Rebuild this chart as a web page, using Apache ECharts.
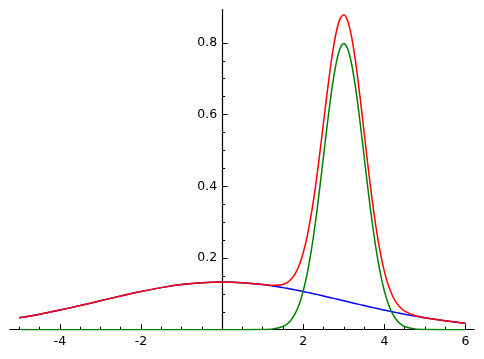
<!DOCTYPE html>
<html>
<head>
<meta charset="utf-8">
<script src="https://cdn.jsdelivr.net/npm/echarts@6/dist/echarts.min.js"></script>
<style>html,body{margin:0;padding:0;background:#fff;}#c{width:484px;height:359px;}</style>
</head>
<body>
<div id="c"></div>
<script>
// x positions of the sampled points
var xs = [-5, -4.5, -4, -3.5, -3, -2.5, -2, -1.5, -1, -0.5, 0, 0.5, 1, 1.25, 1.5,
  1.6, 1.7, 1.8, 1.9, 2.0, 2.1, 2.2, 2.3, 2.4, 2.5, 2.6, 2.7, 2.8, 2.9, 3.0,
  3.1, 3.2, 3.3, 3.4, 3.5, 3.6, 3.7, 3.8, 3.9, 4.0, 4.1, 4.2, 4.3, 4.4, 4.5,
  4.75, 5.0, 5.5, 6.0];
// wide component (blue)
var blueVals = [0.03316, 0.04317, 0.05467, 0.06733, 0.08066, 0.09397, 0.10648, 0.11735, 0.12579, 0.13115, 0.13298, 0.13115, 0.12579, 0.12192, 0.11735,
  0.11535, 0.11326, 0.11107, 0.10882, 0.10648, 0.10409, 0.10163, 0.09912, 0.09656, 0.09397, 0.09134, 0.08870, 0.08602, 0.08334, 0.08066,
  0.07797, 0.07529, 0.07262, 0.06996, 0.06733, 0.06473, 0.06215, 0.05962, 0.05712, 0.05467, 0.05227, 0.04991, 0.04761, 0.04536, 0.04317,
  0.03797, 0.03316, 0.02477, 0.01800];
// narrow component (green)
var greenVals = [0, 0, 0, 0, 0, 0, 0, 0, 0, 0, 0, 0, 0.00027, 0.00175, 0.00886,
  0.01583, 0.02717, 0.04479, 0.07095, 0.10799, 0.15790, 0.22185, 0.29946, 0.38838, 0.48395, 0.57940, 0.66646, 0.73655, 0.78210, 0.79788,
  0.78210, 0.73655, 0.66646, 0.57940, 0.48395, 0.38838, 0.29946, 0.22185, 0.15790, 0.10799, 0.07095, 0.04479, 0.02717, 0.01583, 0.00886,
  0.00175, 0.00027, 0, 0];
// total (red)
var redVals = [0.03316, 0.04317, 0.05467, 0.06733, 0.08066, 0.09397, 0.10648, 0.11735, 0.12579, 0.13115, 0.13298, 0.13115, 0.12606, 0.12367, 0.12621,
  0.13118, 0.14043, 0.15586, 0.17977, 0.21447, 0.26199, 0.32348, 0.39858, 0.48494, 0.57792, 0.67074, 0.75516, 0.82257, 0.86544, 0.87854,
  0.86007, 0.81184, 0.73908, 0.64936, 0.55128, 0.45311, 0.36161, 0.28147, 0.21502, 0.16266, 0.12322, 0.09470, 0.07478, 0.06119, 0.05203,
  0.03972, 0.03343, 0.02477, 0.01800];
// tick labels / tick positions
var xLabels = [-4, -2, 2, 4, 6];
var xMajor = [-4, -2, 0, 2, 4, 6];
var xMinor = [-5, -4.5, -3.5, -3, -2.5, -1.5, -1, -0.5, 0.5, 1, 1.5, 2.5, 3, 3.5, 4.5, 5, 5.5];
var yLabels = [0.2, 0.4, 0.6, 0.8];
var yMinor = [0.05, 0.1, 0.15, 0.25, 0.3, 0.35, 0.45, 0.5, 0.55, 0.65, 0.7, 0.75];

function pairs(v) { return xs.map(function (x, i) { return [x, v[i]]; }); }

var XMIN = -5.23, XMAX = 6.21, YMIN = 0, YMAX = 0.893;
var GL = 10, GR = 10;
var W = 484;
// y axis sits at x = 0: shift it inward from the grid's left edge
var yOff = -((0 - XMIN) / (XMAX - XMIN) * (W - GL - GR));
var font = { fontFamily: 'DejaVu Sans', fontSize: 12.5, color: '#000' };

var chart = echarts.init(document.getElementById('c'), null, { renderer: 'canvas' });
chart.setOption({
  animation: false,
  backgroundColor: '#fff',
  grid: { left: GL, right: GR, top: 9.5, bottom: 29.3, containLabel: false, outerBoundsMode: 'none' },
  xAxis: [
    { type: 'value', min: XMIN, max: XMAX, position: 'bottom',
      axisLine: { show: true, onZero: false, lineStyle: { color: '#000', width: 1.2 } },
      axisTick: { show: true, inside: true, length: 5.5, customValues: xMajor, lineStyle: { color: '#000', width: 1 } },
      axisLabel: Object.assign({ show: true, margin: 6, customValues: xLabels }, font),
      splitLine: { show: false } },
    { type: 'value', min: XMIN, max: XMAX, position: 'bottom',
      axisLine: { show: false, onZero: false },
      axisTick: { show: true, inside: true, length: 3, customValues: xMinor, lineStyle: { color: '#000', width: 1 } },
      axisLabel: { show: false },
      splitLine: { show: false } }
  ],
  yAxis: [
    { type: 'value', min: YMIN, max: YMAX, position: 'left', offset: yOff,
      axisLine: { show: true, onZero: false, lineStyle: { color: '#000', width: 1.2 } },
      axisTick: { show: true, inside: true, length: 5.5, customValues: yLabels, lineStyle: { color: '#000', width: 1 } },
      axisLabel: Object.assign({ show: true, margin: 5, customValues: yLabels, formatter: function (v) { return v.toFixed(1); } }, font),
      splitLine: { show: false } },
    { type: 'value', min: YMIN, max: YMAX, position: 'left', offset: yOff,
      axisLine: { show: false, onZero: false },
      axisTick: { show: true, inside: true, length: 3, customValues: yMinor, lineStyle: { color: '#000', width: 1 } },
      axisLabel: { show: false },
      splitLine: { show: false } }
  ],
  series: [
    { type: 'line', data: pairs(blueVals), xAxisIndex: 0, yAxisIndex: 0, smooth: 0.3, showSymbol: false, symbol: 'none',
      lineStyle: { color: '#0000ff', width: 1.5 }, z: 3 },
    { type: 'line', data: pairs(greenVals), xAxisIndex: 0, yAxisIndex: 0, smooth: 0.3, showSymbol: false, symbol: 'none',
      lineStyle: { color: '#008000', width: 1.5 }, z: 4 },
    { type: 'line', data: pairs(redVals), xAxisIndex: 0, yAxisIndex: 0, smooth: 0.3, showSymbol: false, symbol: 'none',
      lineStyle: { color: '#ff0000', width: 1.5 }, z: 5 }
  ]
});
</script>
</body>
</html>
